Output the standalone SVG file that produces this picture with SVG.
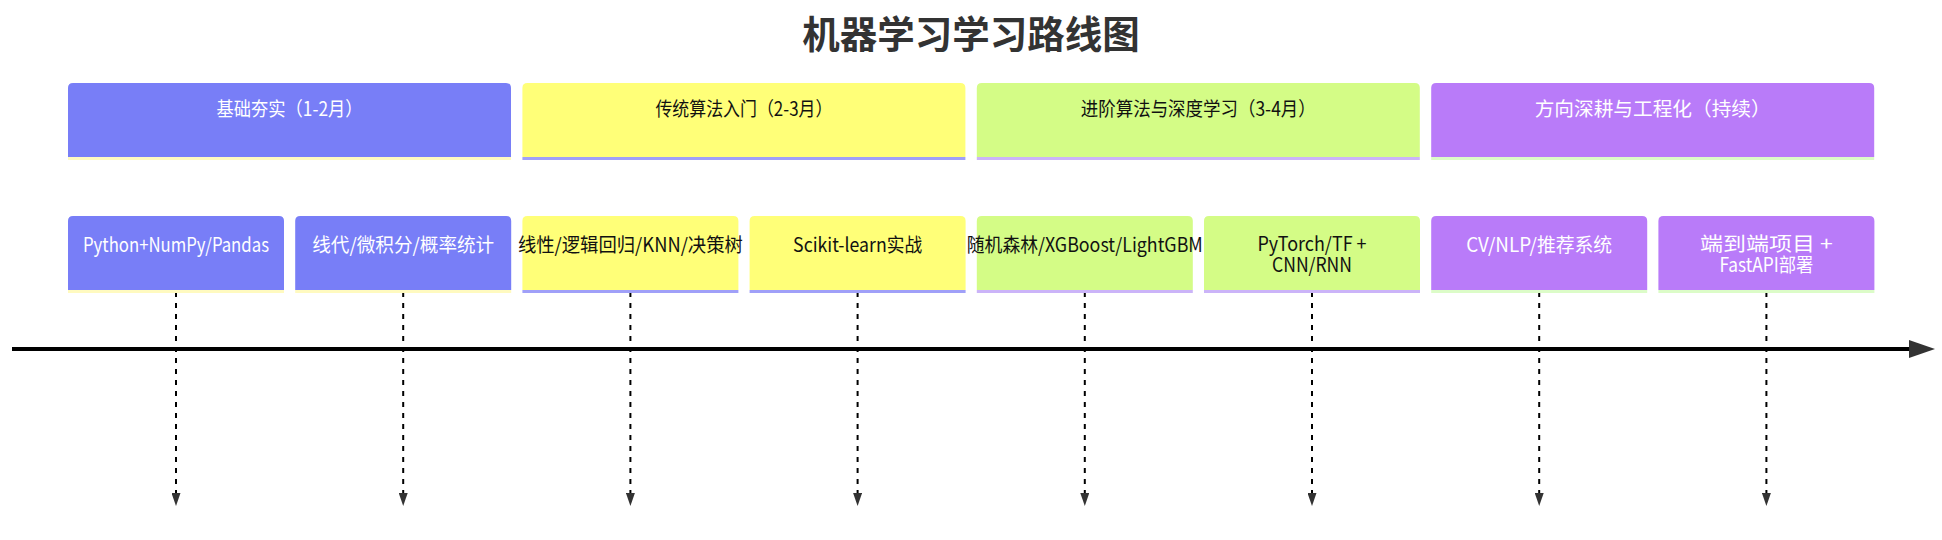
<svg xmlns="http://www.w3.org/2000/svg" width="1942" height="540" viewBox="0 0 1942 540">
<style>
  .title { font-family: "Liberation Sans", "Noto Sans CJK SC", sans-serif; font-size: 37.5px; font-weight: bold; fill: #333333; text-anchor: middle; }
  .lbl { font-family: "Noto Sans CJK SC", "Liberation Sans", sans-serif; font-size: 19.5px; text-anchor: middle; }
  .light { fill: #ffffff; }
  .dark { fill: #111111; }
  .s0 { fill: #787ef7; }
  .s1 { fill: #ffff78; }
  .s2 { fill: #d4fc86; }
  .s3 { fill: #b97bf9; }
  .e0 { stroke: #fffac0; stroke-width: 3; }
  .e1 { stroke: #a0a0f8; stroke-width: 3; }
  .e2 { stroke: #cbb4f8; stroke-width: 3; }
  .e3 { stroke: #dcfcc8; stroke-width: 3; }
  .dash { stroke: #000000; stroke-width: 2; stroke-dasharray: 5 6; fill: none; }
  .axis { stroke: #000000; stroke-width: 4; fill: none; }
</style>
<defs>
  <marker id="axisArrow" markerUnits="userSpaceOnUse" markerWidth="26" markerHeight="18" viewBox="0 0 26 18" refX="3" refY="9" orient="auto">
    <path d="M0,0 L26,9 L0,18 Z" fill="#333333"/>
  </marker>
  <marker id="dashArrow" markerUnits="userSpaceOnUse" markerWidth="13" markerHeight="9" viewBox="0 0 13 9" refX="2" refY="4.5" orient="auto">
    <path d="M0,0 L13,4.5 L0,9 Z" fill="#333333"/>
  </marker>
</defs>
<rect width="1942" height="540" fill="#ffffff"/>
<text class="title" x="971" y="48">机器学习学习路线图</text>

<g id="connectors">
  <line class="axis" x1="12" y1="349" x2="1912" y2="349" marker-end="url(#axisArrow)"/>
  <line class="dash" x1="176" y1="292" x2="176" y2="495" marker-end="url(#dashArrow)"/>
  <line class="dash" x1="403.2" y1="292" x2="403.2" y2="495" marker-end="url(#dashArrow)"/>
  <line class="dash" x1="630.4" y1="292" x2="630.4" y2="495" marker-end="url(#dashArrow)"/>
  <line class="dash" x1="857.6" y1="292" x2="857.6" y2="495" marker-end="url(#dashArrow)"/>
  <line class="dash" x1="1084.8" y1="292" x2="1084.8" y2="495" marker-end="url(#dashArrow)"/>
  <line class="dash" x1="1312" y1="292" x2="1312" y2="495" marker-end="url(#dashArrow)"/>
  <line class="dash" x1="1539.2" y1="292" x2="1539.2" y2="495" marker-end="url(#dashArrow)"/>
  <line class="dash" x1="1766.4" y1="292" x2="1766.4" y2="495" marker-end="url(#dashArrow)"/>
</g>

<!-- Sections -->
<g id="section0">
  <path class="s0" d="M68,157 V88 Q68,83 73,83 H506 Q511,83 511,88 V157 Z"/>
  <line class="e0" x1="68" y1="158.5" x2="511" y2="158.5"/>
  <text class="lbl light" x="289.5" y="116" textLength="146" lengthAdjust="spacingAndGlyphs">基础夯实（1-2月）</text>
</g>
<g id="section1">
  <path class="s1" d="M522.4,157 V88 Q522.4,83 527.4,83 H960.4 Q965.4,83 965.4,88 V157 Z"/>
  <line class="e1" x1="522.4" y1="158.5" x2="965.4" y2="158.5"/>
  <text class="lbl dark" x="743.9" y="116" textLength="177" lengthAdjust="spacingAndGlyphs">传统算法入门（2-3月）</text>
</g>
<g id="section2">
  <path class="s2" d="M976.8,157 V88 Q976.8,83 981.8,83 H1414.8 Q1419.8,83 1419.8,88 V157 Z"/>
  <line class="e2" x1="976.8" y1="158.5" x2="1419.8" y2="158.5"/>
  <text class="lbl dark" x="1198.3" y="116" textLength="235" lengthAdjust="spacingAndGlyphs">进阶算法与深度学习（3-4月）</text>
</g>
<g id="section3">
  <path class="s3" d="M1431.2,157 V88 Q1431.2,83 1436.2,83 H1869.2 Q1874.2,83 1874.2,88 V157 Z"/>
  <line class="e3" x1="1431.2" y1="158.5" x2="1874.2" y2="158.5"/>
  <text class="lbl light" x="1652.7" y="116" textLength="236" lengthAdjust="spacingAndGlyphs">方向深耕与工程化（持续）</text>
</g>

<!-- Tasks -->
<g id="task0">
  <path class="s0" d="M68,290 V221 Q68,216 73,216 H279 Q284,216 284,221 V290 Z"/>
  <line class="e0" x1="68" y1="291.5" x2="284" y2="291.5"/>
  <text class="lbl light" x="176" y="251.5" textLength="186" lengthAdjust="spacingAndGlyphs">Python+NumPy/Pandas</text>
</g>
<g id="task1">
  <path class="s0" d="M295.2,290 V221 Q295.2,216 300.2,216 H506.2 Q511.2,216 511.2,221 V290 Z"/>
  <line class="e0" x1="295.2" y1="291.5" x2="511.2" y2="291.5"/>
  <text class="lbl light" x="403.2" y="251.5" textLength="182" lengthAdjust="spacingAndGlyphs">线代/微积分/概率统计</text>
</g>
<g id="task2">
  <path class="s1" d="M522.4,290 V221 Q522.4,216 527.4,216 H733.4 Q738.4,216 738.4,221 V290 Z"/>
  <line class="e1" x1="522.4" y1="291.5" x2="738.4" y2="291.5"/>
  <text class="lbl dark" x="630.4" y="251.5" textLength="225" lengthAdjust="spacingAndGlyphs">线性/逻辑回归/KNN/决策树</text>
</g>
<g id="task3">
  <path class="s1" d="M749.6,290 V221 Q749.6,216 754.6,216 H960.6 Q965.6,216 965.6,221 V290 Z"/>
  <line class="e1" x1="749.6" y1="291.5" x2="965.6" y2="291.5"/>
  <text class="lbl dark" x="857.6" y="251.5" textLength="129" lengthAdjust="spacingAndGlyphs">Scikit-learn实战</text>
</g>
<g id="task4">
  <path class="s2" d="M976.8,290 V221 Q976.8,216 981.8,216 H1187.8 Q1192.8,216 1192.8,221 V290 Z"/>
  <line class="e2" x1="976.8" y1="291.5" x2="1192.8" y2="291.5"/>
  <text class="lbl dark" x="1084.8" y="251.5" textLength="236" lengthAdjust="spacingAndGlyphs">随机森林/XGBoost/LightGBM</text>
</g>
<g id="task5">
  <path class="s2" d="M1204,290 V221 Q1204,216 1209,216 H1415 Q1420,216 1420,221 V290 Z"/>
  <line class="e2" x1="1204" y1="291.5" x2="1420" y2="291.5"/>
  <text class="lbl dark"><tspan x="1312" y="250.5" textLength="109" lengthAdjust="spacingAndGlyphs">PyTorch/TF +</tspan><tspan x="1312" y="271.5" textLength="80" lengthAdjust="spacingAndGlyphs">CNN/RNN</tspan></text>
</g>
<g id="task6">
  <path class="s3" d="M1431.2,290 V221 Q1431.2,216 1436.2,216 H1642.2 Q1647.2,216 1647.2,221 V290 Z"/>
  <line class="e3" x1="1431.2" y1="291.5" x2="1647.2" y2="291.5"/>
  <text class="lbl light" x="1539.2" y="251.5" textLength="146" lengthAdjust="spacingAndGlyphs">CV/NLP/推荐系统</text>
</g>
<g id="task7">
  <path class="s3" d="M1658.4,290 V221 Q1658.4,216 1663.4,216 H1869.4 Q1874.4,216 1874.4,221 V290 Z"/>
  <line class="e3" x1="1658.4" y1="291.5" x2="1874.4" y2="291.5"/>
  <text class="lbl light"><tspan x="1766.4" y="250.5" textLength="133" lengthAdjust="spacingAndGlyphs">端到端项目 +</tspan><tspan x="1766.4" y="271.5" textLength="94" lengthAdjust="spacingAndGlyphs">FastAPI部署</tspan></text>
</g>
</svg>
